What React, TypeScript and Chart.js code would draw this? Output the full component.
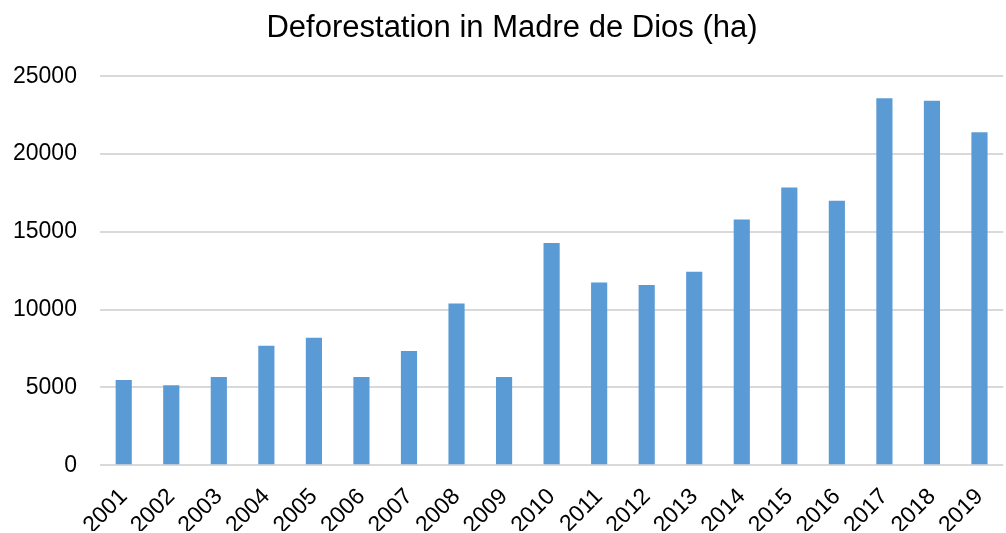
import React, { useEffect, useRef } from "react";
import { Chart, registerables } from "chart.js";

Chart.register(...registerables);

const years = ["2001","2002","2003","2004","2005","2006","2007","2008","2009","2010","2011","2012","2013","2014","2015","2016","2017","2018","2019"];
const deforestation = [5480, 5140, 5680, 7680, 8190, 5680, 7350, 10390, 5680, 14280, 11740, 11590, 12430, 15790, 17850, 16990, 23590, 23420, 21400];
const titleText = "Deforestation in Madre de Dios (ha)";

const titleShift = {
  id: "titleShift",
  afterLayout(chart: any) {
    const t = chart.titleBlock;
    if (t) t.left += 17;
  },
};

export default function App() {
  const ref = useRef<HTMLCanvasElement>(null);
  useEffect(() => {
    document.body.style.margin = "0";
    const chart = new Chart(ref.current!, {
      type: "bar",
      data: {
        labels: years,
        datasets: [{
          label: "Deforestation",
          data: deforestation,
          backgroundColor: "#5B9BD5",
          categoryPercentage: 1,
          barPercentage: 0.34,
        }],
      },
      options: {
        responsive: false,
        animation: false,
        layout: { padding: { left: -10, right: 0, top: 4, bottom: -26 } },
        plugins: {
          legend: { display: false },
          tooltip: { enabled: false },
          title: {
            display: true,
            text: titleText,
            color: "#000",
            font: { family: "Liberation Sans", size: 31, weight: "normal" },
            padding: { top: 6, bottom: 29 },
          },
        },
        scales: {
          x: {
            grid: { display: false, drawTicks: false },
            border: { display: false },
            ticks: {
              color: "#000",
              font: { family: "Liberation Sans", size: 23 },
              maxRotation: 45,
              minRotation: 45,
              padding: 18,
              autoSkip: false,
            },
          },
          y: {
            min: 0,
            max: 25000,
            grid: { color: "#d9d9d9", lineWidth: 2, drawTicks: false },
            border: { display: false },
            ticks: {
              stepSize: 5000,
              color: "#000",
              font: { family: "Liberation Sans", size: 23 },
              padding: 23,
              callback: (v: any) => String(v),
            },
          },
        },
      },
      plugins: [titleShift],
    });
    return () => chart.destroy();
  }, []);
  return (
    <div style={{ width: 1006, height: 533, overflow: "hidden" }}>
      <canvas ref={ref} width={1017} height={531} style={{ display: "block" }} />
    </div>
  );
}
